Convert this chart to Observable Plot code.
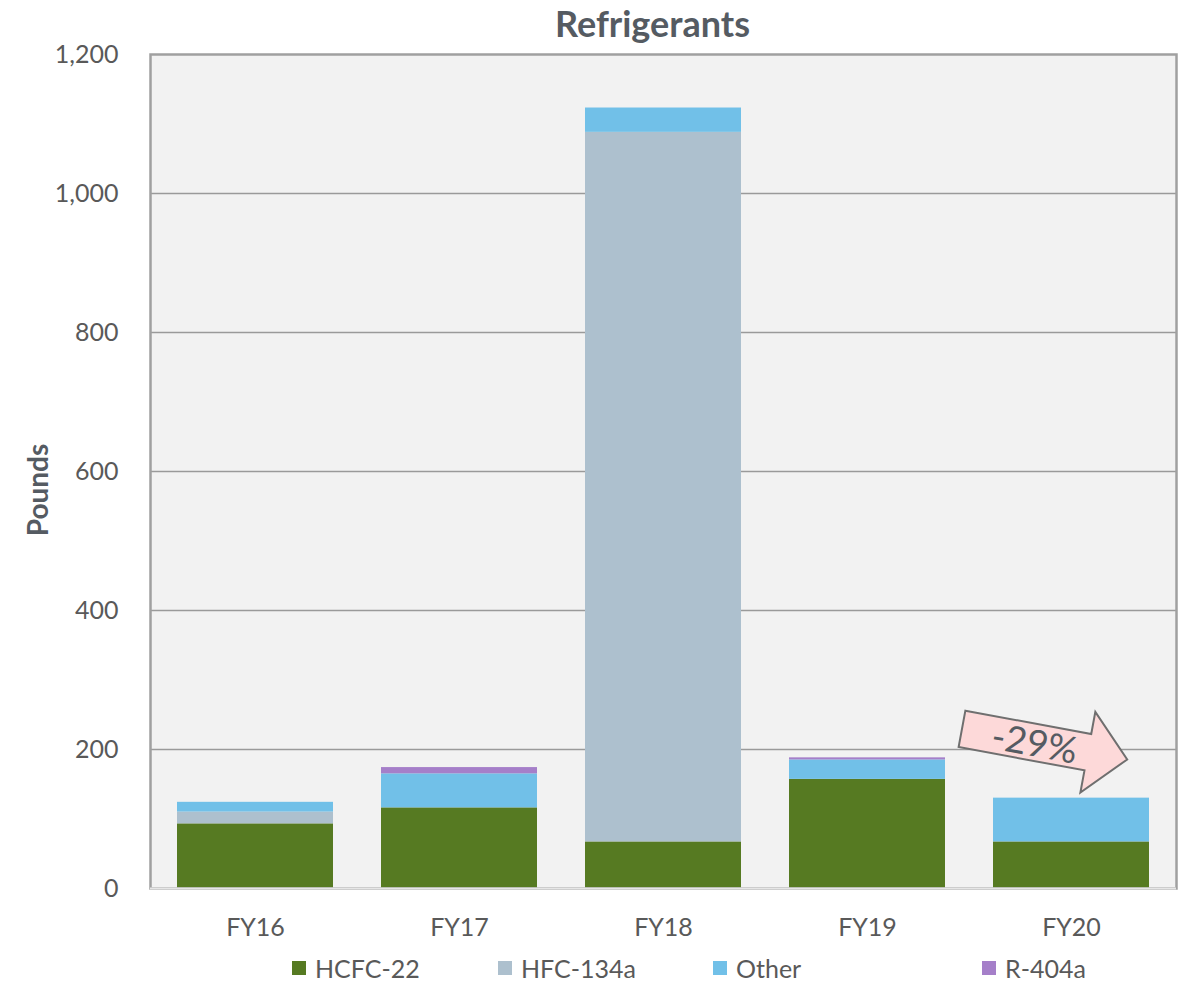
<!DOCTYPE html>
<html>
<head>
<meta charset="utf-8">
<script src="https://cdn.jsdelivr.net/npm/d3@7"></script>
<script src="https://cdn.jsdelivr.net/npm/@observablehq/plot@0.6"></script>
<style>
  body { margin: 0; background: #fff; font-family: Lato, "Open Sans", sans-serif; }
  #wrap { position: relative; width: 1184px; }
  #legend { position: relative; height: 50px; width: 1184px; font-size: 25px; color: #595959; }
  .item { position: absolute; top: 8px; display: flex; align-items: center; }
  .sw { width: 14px; height: 14px; margin-right: 9px; }
</style>
</head>
<body>
<div id="wrap"></div>
<script>
const years = ["FY16", "FY17", "FY18", "FY19", "FY20"];
const series = ["HCFC-22", "HFC-134a", "Other", "R-404a"];
const colors = ["#567a22", "#adc0ce", "#71c0e8", "#a57fc9"];
const hcfc22  = [93, 116, 67, 157, 67];
const hfc134a = [17, 0, 1021, 0, 0];
const other   = [14, 49, 35, 28, 63];
const r404a   = [0, 9, 0, 3, 0];
const yTicks = [0, 200, 400, 600, 800, 1000, 1200];
const annotation = "-29%";

const values = [hcfc22, hfc134a, other, r404a];
const data = [];
years.forEach((yr, i) => series.forEach((s, j) => data.push({year: yr, series: s, value: values[j][i]})));

const chart = Plot.plot({
  width: 1184,
  height: 945,
  marginLeft: 150,
  marginRight: 8,
  marginTop: 54,
  marginBottom: 57,
  style: {fontFamily: "Lato, 'Open Sans', sans-serif", color: "#595959", background: "#fff"},
  x: {domain: years, paddingInner: 0.235, paddingOuter: 0.12, label: null, tickSize: 0, tickPadding: 30},
  y: {domain: [0, 1200], ticks: yTicks, tickFormat: d3.format(","), label: null, tickSize: 0, tickPadding: 32},
  color: {domain: series, range: colors},
  marks: [
    Plot.frame({fill: "#f2f2f2"}),
    Plot.gridY(yTicks.filter(d => d > 0 && d < 1200), {stroke: "#9a9a9a", strokeOpacity: 1, strokeWidth: 1.5}),
    Plot.barY(data, {x: "year", y: "value", fill: "series", order: series}),
    Plot.frame({stroke: "#a0a0a0", strokeWidth: 2.5}),
    Plot.ruleY([0], {stroke: "#e6e6e6", strokeWidth: 2}),
    Plot.axisY({ticks: yTicks, tickFormat: d3.format(","), tickSize: 0, tickPadding: 32, fontSize: 25, label: null}),
    Plot.axisX({tickSize: 0, tickPadding: 30, fontSize: 25, label: null}),
    Plot.text(["Refrigerants"], {frameAnchor: "top", dy: -43, fontSize: 36, fontWeight: "bold", fill: "#555b62", dx: -11})
  ]
});

const xs = chart.scale("x"), ys = chart.scale("y");
const svg = d3.select(chart);

// y-axis title
svg.append("text")
  .attr("transform", `translate(38,${(ys.apply(0) + ys.apply(1200)) / 2 + 19}) rotate(-90)`)
  .attr("text-anchor", "middle").attr("dy", "0.35em")
  .attr("font-size", 28).attr("font-weight", "bold").attr("fill", "#555b62")
  .attr("font-family", "Lato, 'Open Sans', sans-serif").text("Pounds");

// Annotation arrow positioned from the chart's own scales
const ox = xs.apply("FY20") - 31;
const oy = ys.apply(229);
const g = svg.append("g").attr("transform", `translate(${ox},${oy}) rotate(10.5)`);
g.append("path")
  .attr("d", "M0,-18.5 L128,-18.5 L128,-41 L168,0 L128,41 L128,18.5 L0,18.5 Z")
  .attr("fill", "#fdd9d9").attr("stroke", "#6f6f6f").attr("stroke-width", 2);
g.append("text").attr("x", 74).attr("y", 1).attr("dy", "0.35em")
  .attr("text-anchor", "middle").attr("font-size", 37).attr("fill", "#555b62")
  .attr("font-family", "Lato, 'Open Sans', sans-serif").text(annotation);

document.getElementById("wrap").appendChild(chart);

// Legend
const legend = document.createElement("div");
legend.id = "legend";
const lefts = [292, 498, 713, 982];
series.forEach((s, i) => {
  const it = document.createElement("div");
  it.className = "item";
  it.style.left = lefts[i] + "px";
  const sw = document.createElement("span");
  sw.className = "sw";
  sw.style.background = colors[i];
  const t = document.createElement("span");
  t.textContent = s;
  it.appendChild(sw); it.appendChild(t);
  legend.appendChild(it);
});
document.getElementById("wrap").appendChild(legend);
</script>
</body>
</html>
